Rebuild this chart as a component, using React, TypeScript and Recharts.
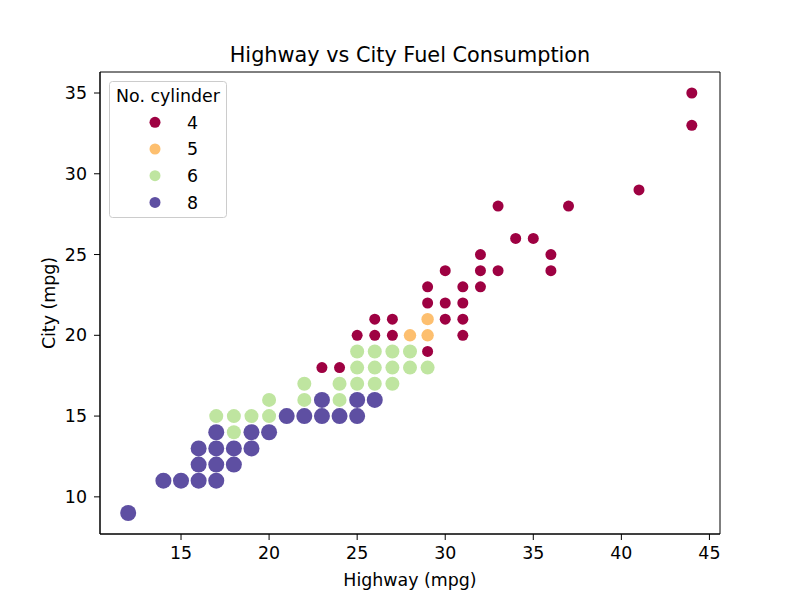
import React from 'react';
import { ScatterChart, Scatter, XAxis, YAxis, ReferenceArea } from 'recharts';

// cylinder classes and their look
const cylinders = ['4', '5', '6', '8'];
const colors = ['#9e0142', '#fdbf6f', '#bfe5a0', '#5e4fa2'];
const radii = [5.5, 6.2, 7, 8];

// highway / city mpg pairs per cylinder class
const hwy4 = [23, 24, 25, 26, 27, 26, 27, 29, 29, 30, 31, 29, 31, 32, 30, 32, 33, 36, 30, 31, 31, 32, 36, 34, 35, 33, 37, 41, 44, 44];
const cty4 = [18, 18, 20, 20, 20, 21, 21, 19, 22, 22, 22, 23, 23, 23, 24, 24, 24, 24, 21, 21, 20, 25, 25, 26, 26, 28, 28, 29, 33, 35];

const hwy5 = [28, 29, 29];
const cty5 = [20, 20, 21];

const hwy6 = [17, 18, 18, 19, 20, 20, 22, 22, 24, 24, 25, 26, 27, 25, 26, 27, 28, 29, 25, 26, 27, 28];
const cty6 = [15, 14, 15, 15, 15, 16, 16, 17, 16, 17, 17, 17, 17, 18, 18, 18, 18, 18, 19, 19, 19, 19];

const hwy8 = [12, 14, 15, 16, 17, 16, 17, 18, 16, 17, 18, 19, 17, 19, 20, 21, 22, 23, 24, 25, 23, 25, 26];
const cty8 = [9, 11, 11, 11, 11, 12, 12, 12, 13, 13, 13, 13, 14, 14, 14, 15, 15, 15, 15, 15, 16, 16, 16];

const xTicks = [15, 20, 25, 30, 35, 40, 45];
const yTicks = [10, 15, 20, 25, 30, 35];

const series = [
  { hwy: hwy4, cty: cty4 },
  { hwy: hwy5, cty: cty5 },
  { hwy: hwy6, cty: cty6 },
  { hwy: hwy8, cty: cty8 },
].map((s, i) => ({
  name: cylinders[i],
  color: colors[i],
  r: radii[i],
  data: s.hwy.map((h, j) => ({ hwy: h, cty: s.cty[j] })),
}));

const FONT = 'DejaVu Sans, sans-serif';
const FS = 17.4; // 10pt at 125 dpi
const tickStyle = { fill: '#000', fontSize: FS, fontFamily: FONT };

// legend drawn over the plot, like matplotlib's upper-left legend
const LegendBox = () => (
  <svg width={119} height={138} style={{ position: 'absolute', left: 109, top: 81 }}>
    <rect x={0.5} y={0.5} width={117} height={136} rx={3} fill="#fff" fillOpacity={0.8} stroke="#ccc" />
    <text x={59} y={21} textAnchor="middle" fontSize={FS} fontFamily={FONT} fill="#000">No. cylinder</text>
    {series.map((s, i) => (
      <g key={s.name}>
        <circle cx={46} cy={41.3 + i * 26.7} r={5.5} fill={s.color} />
        <text x={78} y={47.6 + i * 26.7} fontSize={FS} fontFamily={FONT} fill="#000">{s.name}</text>
      </g>
    ))}
  </svg>
);

export default function App() {
  return (
    <div style={{ position: 'fixed', left: 0, top: 0, width: 800, height: 600, background: '#fff', fontFamily: FONT }}>
      <div style={{ position: 'absolute', left: 100, top: 43, width: 620, textAlign: 'center', fontSize: 20.8, color: '#000', whiteSpace: 'nowrap' }}>
        Highway vs City Fuel Consumption
      </div>
      <ScatterChart width={800} height={600} margin={{ top: 72, right: 80, bottom: 0, left: 0 }}>
        <XAxis
          type="number"
          dataKey="hwy"
          domain={[10.4, 45.6]}
          ticks={xTicks}
          allowDataOverflow
          height={66}
          tickSize={6}
          tickMargin={7}
          tick={tickStyle}
          tickLine={{ stroke: '#000' }}
          axisLine={{ stroke: '#000' }}
          label={{ value: 'Highway (mpg)', position: 'insideBottom', offset: 14, fill: '#000', fontSize: FS, fontFamily: FONT }}
        />
        <YAxis
          type="number"
          dataKey="cty"
          domain={[7.7, 36.3]}
          ticks={yTicks}
          allowDataOverflow
          width={100}
          tickSize={6}
          tickMargin={7}
          tick={tickStyle}
          tickLine={{ stroke: '#000' }}
          axisLine={{ stroke: '#000' }}
          label={{ value: 'City (mpg)', angle: -90, position: 'insideLeft', offset: 49, fill: '#000', fontSize: FS, fontFamily: FONT, style: { textAnchor: 'middle' } }}
        />
        {series.map((s) => (
          <Scatter
            key={s.name}
            name={s.name}
            data={s.data}
            fill={s.color}
            isAnimationActive={false}
            shape={(p: any) => <circle cx={p.cx} cy={p.cy} r={s.r} fill={s.color} />}
          />
        ))}
        <ReferenceArea x1={10.4} x2={45.6} y1={7.7} y2={36.3} fill="none" stroke="#000" strokeWidth={1} />
      </ScatterChart>
      <LegendBox />
    </div>
  );
}
